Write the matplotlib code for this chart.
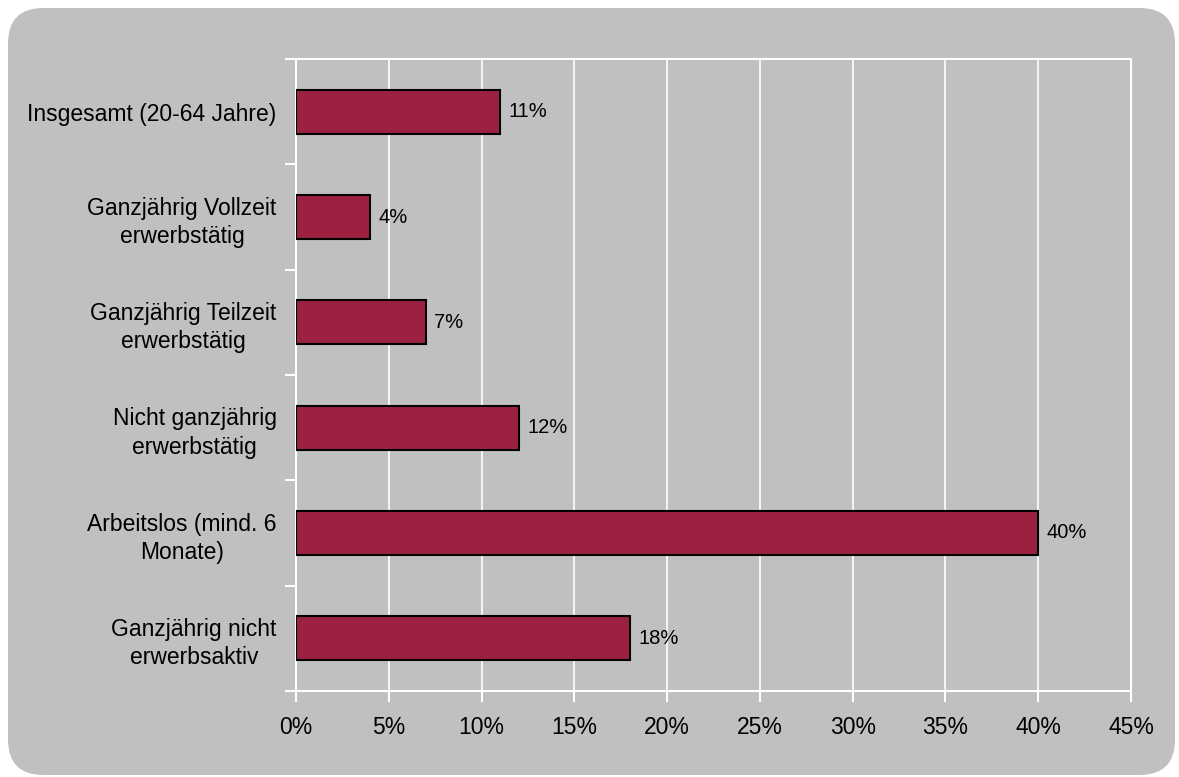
import matplotlib.pyplot as plt
from matplotlib.patches import FancyBboxPatch
from matplotlib.ticker import FuncFormatter

# data
categories = ["Insgesamt (20-64 Jahre)",
              "Ganzjährig Vollzeit\nerwerbstätig",
              "Ganzjährig Teilzeit\nerwerbstätig",
              "Nicht ganzjährig\nerwerbstätig",
              "Arbeitslos (mind. 6\nMonate)",
              "Ganzjährig nicht\nerwerbsaktiv"]
values = [11, 4, 7, 12, 40, 18]
x_ticks = [0, 5, 10, 15, 20, 25, 30, 35, 40, 45]

plt.rcParams['font.family'] = ['Liberation Sans', 'DejaVu Sans']

W, H = 1179, 777
fig = plt.figure(figsize=(W / 100, H / 100), dpi=100, facecolor='white')

# rounded grey background (behind the axes)
bg = FancyBboxPatch((8 / W, 2 / H), (1175 - 8) / W, (775 - 8) / H,
                    boxstyle="round,pad=0,rounding_size=0.03",
                    transform=fig.transFigure, facecolor='#c0c0c0',
                    edgecolor='none', mutation_aspect=W / H, zorder=-10)
fig.patches.append(bg)

ax = fig.add_axes([296 / W, 1 - 691 / H, (1131 - 296) / W, (691 - 59) / H])
ax.set_facecolor('none')

ypos = list(range(len(categories)))
ax.barh(ypos, values, height=0.42, color='#9c2141', edgecolor='black',
        linewidth=1.5, zorder=3)

for y, v in zip(ypos, values):
    ax.text(v + 0.45, y, f"{v}%", va='center', ha='left', fontsize=14.5,
            color='black', zorder=4)

ax.set_xlim(0, 45)
ax.set_ylim(len(categories) - 0.5, -0.5)
ax.set_xticks(x_ticks)
ax.xaxis.set_major_formatter(FuncFormatter(lambda x, p: f"{int(x)}%"))

ax.set_yticks([y - 0.5 for y in ypos] + [len(categories) - 0.5])
ax.set_yticklabels([])
ax.set_yticks(ypos, minor=True)
ax.set_yticklabels(categories, minor=True, fontsize=16.5,
                   multialignment='center', linespacing=1.3)
ax.tick_params(axis='y', which='minor', length=0, pad=14)
ax.tick_params(axis='y', which='major', length=8, color='white', width=1.5)
ax.tick_params(axis='x', length=8, color='white', width=1.5, labelsize=16.5, pad=10)

ax.grid(axis='x', color='white', linewidth=1.2, zorder=0)
for s in ax.spines.values():
    s.set_color('white')
    s.set_linewidth(1.5)

fig.savefig('out.png', dpi=100, facecolor='white')
